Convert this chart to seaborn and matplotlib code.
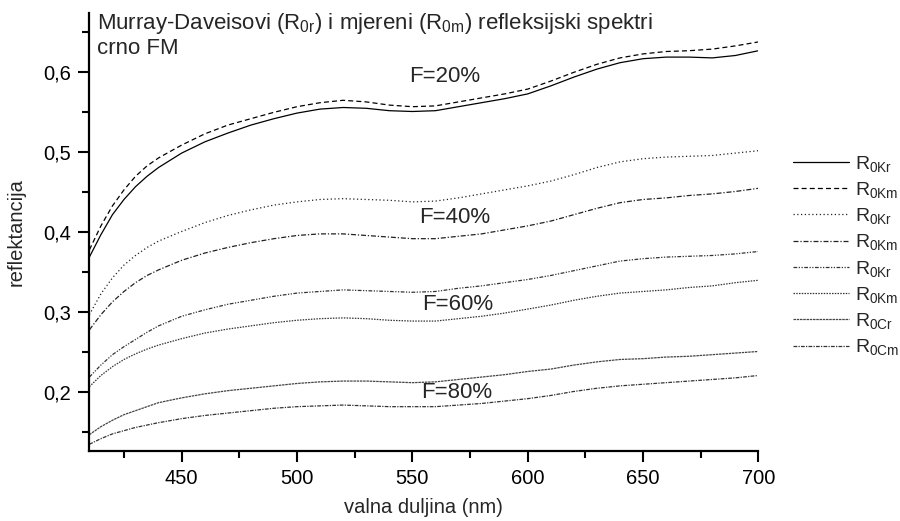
import numpy as np
import pandas as pd
import matplotlib
matplotlib.use("Agg")
import matplotlib.pyplot as plt
from matplotlib.ticker import MultipleLocator, FuncFormatter
import seaborn as sns

# wavelength grid (nm), denser at the steep short-wave end
wavelength = [410, 415, 420, 425, 430, 435, 440] + list(range(450, 701, 10))

# F = 20 %
r0kr_20 = [0.369, 0.397, 0.422, 0.441, 0.457, 0.470, 0.481, 0.499, 0.513, 0.524, 0.534, 0.542, 0.549,
           0.554, 0.556, 0.555, 0.552, 0.551, 0.552, 0.557, 0.562, 0.567, 0.573,
           0.583, 0.594, 0.604, 0.612, 0.617, 0.619, 0.619, 0.618, 0.621, 0.627]
r0km_20 = [0.378, 0.408, 0.433, 0.453, 0.470, 0.483, 0.493, 0.509, 0.523, 0.534, 0.542, 0.550, 0.557,
           0.562, 0.565, 0.563, 0.559, 0.557, 0.558, 0.563, 0.568, 0.573, 0.579,
           0.589, 0.600, 0.610, 0.618, 0.623, 0.626, 0.627, 0.629, 0.633, 0.638]
# F = 40 %
r0kr_40 = [0.297, 0.323, 0.343, 0.359, 0.371, 0.381, 0.389, 0.401, 0.412, 0.421, 0.428, 0.434, 0.438,
           0.441, 0.442, 0.441, 0.440, 0.438, 0.439, 0.443, 0.448, 0.453, 0.458,
           0.464, 0.472, 0.481, 0.488, 0.492, 0.494, 0.495, 0.496, 0.499, 0.502]
r0km_40 = [0.278, 0.297, 0.313, 0.326, 0.337, 0.346, 0.353, 0.365, 0.374, 0.381, 0.387, 0.392, 0.396,
           0.398, 0.398, 0.396, 0.394, 0.392, 0.392, 0.395, 0.398, 0.403, 0.408,
           0.414, 0.422, 0.430, 0.437, 0.441, 0.443, 0.446, 0.448, 0.451, 0.455]
# F = 60 %
r0kr_60 = [0.219, 0.234, 0.247, 0.257, 0.266, 0.275, 0.283, 0.295, 0.303, 0.310, 0.315, 0.320, 0.324,
           0.326, 0.328, 0.327, 0.326, 0.325, 0.326, 0.330, 0.333, 0.337, 0.341,
           0.346, 0.352, 0.358, 0.364, 0.367, 0.369, 0.370, 0.371, 0.373, 0.376]
r0km_60 = [0.207, 0.221, 0.232, 0.241, 0.248, 0.254, 0.259, 0.267, 0.274, 0.279, 0.283, 0.287, 0.290,
           0.292, 0.293, 0.292, 0.290, 0.289, 0.289, 0.292, 0.295, 0.299, 0.304,
           0.309, 0.315, 0.320, 0.324, 0.326, 0.328, 0.331, 0.333, 0.337, 0.340]
# F = 80 %
r0cr_80 = [0.147, 0.157, 0.165, 0.172, 0.177, 0.182, 0.187, 0.193, 0.198, 0.202, 0.205, 0.208, 0.211,
           0.213, 0.214, 0.214, 0.213, 0.212, 0.213, 0.216, 0.219, 0.222, 0.226,
           0.229, 0.234, 0.238, 0.241, 0.242, 0.244, 0.245, 0.247, 0.249, 0.251]
r0cm_80 = [0.135, 0.142, 0.148, 0.152, 0.156, 0.159, 0.162, 0.167, 0.171, 0.174, 0.177, 0.180, 0.182,
           0.183, 0.184, 0.183, 0.182, 0.182, 0.182, 0.184, 0.186, 0.189, 0.192,
           0.196, 0.201, 0.205, 0.208, 0.210, 0.212, 0.214, 0.216, 0.218, 0.221]

series_labels = ["R$_{0Kr}$", "R$_{0Km}$", "R$_{0Kr}$", "R$_{0Km}$",
                 "R$_{0Kr}$", "R$_{0Km}$", "R$_{0Cr}$", "R$_{0Cm}$"]
series_values = [r0kr_20, r0km_20, r0kr_40, r0km_40,
                 r0kr_60, r0km_60, r0cr_80, r0cm_80]

f_labels = ["F=20%", "F=40%", "F=60%", "F=80%"]
f_label_pos = [(564, 0.595), (568.5, 0.4185), (569.8, 0.310), (569.3, 0.200)]

sns.set_theme(style="ticks")
plt.rcParams["font.family"] = ["Liberation Sans", "DejaVu Sans"]
plt.rcParams["mathtext.default"] = "regular"

line_styles = [
    "-",
    (0, (4, 2.5)),
    (0, (1, 2)),
    (0, (4, 1.5, 1, 1.5)),
    (0, (3, 1.2, 1, 1.2, 1, 1.2)),
    (0, (1.2, 1)),
    (0, (2, 0.6)),
    (0, (3, 1, 1, 1)),
]
line_colors = ["black", "black", "#222222", "#222222",
               "#333333", "#333333", "#444444", "#333333"]

fig = plt.figure(figsize=(9, 5.21), dpi=100)
ax = fig.add_axes([0.0993, 0.1344, 0.7434, 0.8406])

for vals, lab, ls, col in zip(series_values, series_labels, line_styles, line_colors):
    df = pd.DataFrame({"wl": wavelength, "R": vals})
    sns.lineplot(data=df, x="wl", y="R", ax=ax, color=col, linestyle=ls,
                 linewidth=0.9, label=lab)

for txt, (xv, yv) in zip(f_labels, f_label_pos):
    ax.text(xv, yv, txt, ha="center", va="center", fontsize=16)

ax.set_xlim(410, 700)
ax.set_ylim(0.1266, 0.6741)
ax.xaxis.set_major_locator(MultipleLocator(50))
ax.xaxis.set_minor_locator(MultipleLocator(25))
ax.yaxis.set_major_locator(MultipleLocator(0.1))
ax.yaxis.set_minor_locator(MultipleLocator(0.05))
ax.yaxis.set_major_formatter(FuncFormatter(lambda v, p: f"{v:.1f}".replace(".", ",")))

ax.tick_params(which="major", direction="out", length=8, width=1.5, labelsize=14.5,
               color="black", labelcolor="black", pad=5)
ax.tick_params(which="minor", direction="out", length=5, width=1.5, color="black")
for s in ["top", "right"]:
    ax.spines[s].set_visible(False)
for s in ["left", "bottom"]:
    ax.spines[s].set_linewidth(1.6)
    ax.spines[s].set_color("black")

ax.set_xlabel("valna duljina (nm)", fontsize=14.5, labelpad=7)
ax.set_ylabel("reflektancija", fontsize=14.5, labelpad=13)

fig.text(97 / 900, 1 - 11 / 521,
         "Murray-Daveisovi (R$_{0r}$) i mjereni (R$_{0m}$) refleksijski spektri\ncrno FM",
         ha="left", va="top", fontsize=16, linespacing=1.15)

ax.legend(loc="upper left", bbox_to_anchor=(785 / 900, 1 - 146 / 521),
          bbox_transform=fig.transFigure, frameon=False, fontsize=14,
          handlelength=2.9, handletextpad=0.3, labelspacing=0.32, borderaxespad=0)

fig.savefig("out.png", dpi=100)
